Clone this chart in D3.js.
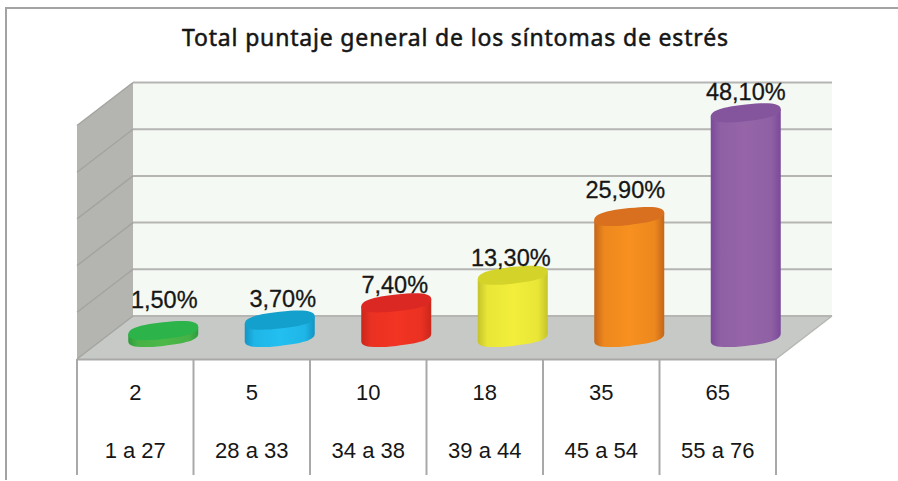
<!DOCTYPE html>
<html>
<head>
<meta charset="utf-8">
<script src="https://cdn.jsdelivr.net/npm/d3@7"></script>
<style>
  html, body { margin: 0; padding: 0; background: #fff; }
  svg { display: block; }
  text { font-family: "Liberation Sans", Arial, sans-serif; fill: #161616; }
</style>
</head>
<body>
<div id="chart"></div>
<script>
// chart values
const titleText = "Total puntaje general de los síntomas de estrés";
const counts = [2, 5, 10, 18, 35, 65];
const percentLabels = ["1,50%", "3,70%", "7,40%", "13,30%", "25,90%", "48,10%"];
const ranges = ["1 a 27", "28 a 33", "34 a 38", "39 a 44", "45 a 54", "55 a 76"];
const yTicks = [0, 14, 28, 42, 56, 70];
const sideColors = ["#4cb848", "#22bff0", "#f23423", "#f2ee3a", "#f7901f", "#9565a8"];
const edgeColors = ["#2e9c3c", "#1194c4", "#c9271c", "#c4c42a", "#c4661a", "#7a4a9a"];
const topColors = ["#2cb34a", "#14a0cc", "#dc2823", "#d3d32a", "#d9701f", "#84549c"];

const width = 898;
const height = 481;

// floor corners: front edge and how far the depth is pushed back
const frontLeft = 77;
const frontRight = 776;
const frontY = 359;
const depthX = 56;
const depthY = 43;
const tableBottom = 475;

// the value labels were placed by hand in the original, so each has its own nudge
const labelNudgeX = [1, 3, -1.5, -2, -4, 0];
const labelGap = [23, 13, 10, 9, 19, 13];

const svg = d3.select("#chart").append("svg")
    .attr("width", width)
    .attr("height", height);

const defs = svg.append("defs");

// outer frame, only top and left are inside the crop
svg.append("path")
    .attr("d", `M6,480 V8 H${width}`)
    .attr("fill", "none")
    .attr("stroke", "#a3a3a3")
    .attr("stroke-width", 2);

// Scales
const xScale = d3.scaleBand()
    .domain(ranges)
    .range([frontLeft, frontRight]);

const gridY = d3.scaleLinear()
    .domain([0, 70])
    .range([frontY - depthY, frontY - depthY - 233.5]);

const barHeight = d3.scaleLinear()
    .domain([0, 70])
    .range([0, 242]);

// back wall
svg.append("rect")
    .attr("x", frontLeft + depthX)
    .attr("y", gridY(70))
    .attr("width", frontRight - frontLeft)
    .attr("height", gridY(0) - gridY(70))
    .attr("fill", "#f4f9f3");

// side wall
svg.append("path")
    .attr("d", `M${frontLeft},${frontY} L${frontLeft + depthX},${gridY(0)} V${gridY(70)} L${frontLeft},${gridY(70) + depthY} Z`)
    .attr("fill", "#b4b5b1");

// floor
svg.append("path")
    .attr("d", `M${frontLeft},${frontY} L${frontLeft + depthX},${gridY(0)} H${frontRight + depthX} L${frontRight},${frontY} Z`)
    .attr("fill", "#c6c9c5");

// gridlines on back and side wall
const grid = svg.append("g").attr("class", "grid");
grid.selectAll(".back-line")
    .data(yTicks)
    .enter().append("line")
    .attr("class", "back-line")
    .attr("x1", frontLeft + depthX)
    .attr("x2", frontRight + depthX)
    .attr("y1", d => gridY(d))
    .attr("y2", d => gridY(d))
    .attr("stroke", "#b5b5b3")
    .attr("stroke-width", 2);
grid.selectAll(".side-line")
    .data(yTicks)
    .enter().append("line")
    .attr("class", "side-line")
    .attr("x1", frontLeft)
    .attr("x2", frontLeft + depthX)
    .attr("y1", d => gridY(d) + depthY)
    .attr("y2", d => gridY(d))
    .attr("stroke", "#a3a4a0")
    .attr("stroke-width", 1.4);

// right edge of the floor
svg.append("line")
    .attr("x1", frontRight)
    .attr("y1", frontY)
    .attr("x2", frontRight + depthX)
    .attr("y2", gridY(0))
    .attr("stroke", "#b5b7b3")
    .attr("stroke-width", 1.5);

// table under the chart
const table = svg.append("g").attr("class", "table");
table.append("line")
    .attr("x1", frontLeft)
    .attr("x2", frontRight)
    .attr("y1", frontY + 0.5)
    .attr("y2", frontY + 0.5)
    .attr("stroke", "#a9a9a9")
    .attr("stroke-width", 2);
table.selectAll(".cell-line")
    .data(ranges.map(d => xScale(d)).concat(frontRight))
    .enter().append("line")
    .attr("class", "cell-line")
    .attr("x1", d => d)
    .attr("x2", d => d)
    .attr("y1", frontY)
    .attr("y2", tableBottom)
    .attr("stroke", "#a9a9a9")
    .attr("stroke-width", 2);
table.selectAll(".count-label")
    .data(counts)
    .enter().append("text")
    .attr("class", "count-label")
    .attr("x", (d, i) => xScale(ranges[i]) + xScale.bandwidth() / 2)
    .attr("y", 400)
    .attr("text-anchor", "middle")
    .style("font-size", "22px")
    .text(d => d);
table.selectAll(".range-label")
    .data(ranges)
    .enter().append("text")
    .attr("class", "range-label")
    .attr("x", d => xScale(d) + xScale.bandwidth() / 2)
    .attr("y", 458)
    .attr("text-anchor", "middle")
    .style("font-size", "22px")
    .text(d => d);

// cylinders: rounder than a true ellipse, and skewed so the sides stay vertical
const rx = 35;
const ry = 8.4;
const skew = -6;
const kx = 0.66 * rx;
const ky = 0.72 * ry;
const barBase = 337.5;

const lowerHalf = `C${rx},${ky} ${kx},${ry} 0,${ry} C${-kx},${ry} ${-rx},${ky} ${-rx},0`;
const upperHalf = `C${-rx},${-ky} ${-kx},${-ry} 0,${-ry} C${kx},${-ry} ${rx},${-ky} ${rx},0`;

counts.forEach((d, i) => {
    const grad = defs.append("linearGradient")
        .attr("id", `bar-grad-${i}`);
    const inner = d3.interpolateRgb(sideColors[i], edgeColors[i])(0.2);
    [[0, edgeColors[i]], [0.14, inner], [0.5, sideColors[i]], [0.86, inner], [1, edgeColors[i]]]
        .forEach(s => grad.append("stop").attr("offset", s[0]).attr("stop-color", s[1]));
});

const bars = svg.append("g").attr("class", "bars")
    .selectAll(".bar")
    .data(counts)
    .enter().append("g")
    .attr("class", "bar");

const centerX = (d, i) => xScale(ranges[i]) + xScale.bandwidth() / 2 + depthX / 2;
const topY = d => barBase - barHeight(d);

bars.append("path")
    .attr("fill", (d, i) => `url(#bar-grad-${i})`)
    .attr("transform", (d, i) => `translate(${centerX(d, i)},${barBase}) skewY(${skew})`)
    .attr("d", d => `M${rx},${-barHeight(d)} L${rx},0 ${lowerHalf} L${-rx},${-barHeight(d)} Z`);

bars.append("path")
    .attr("fill", (d, i) => topColors[i])
    .attr("transform", (d, i) => `translate(${centerX(d, i)},${topY(d)}) skewY(${skew})`)
    .attr("d", `M${rx},0 ${lowerHalf} ${upperHalf} Z`);

// value labels above each cylinder
bars.append("text")
    .attr("x", (d, i) => centerX(d, i) + labelNudgeX[i])
    .attr("y", (d, i) => topY(d) - labelGap[i])
    .attr("text-anchor", "middle")
    .style("font-size", "23.5px")
    .style("stroke", "#161616")
    .style("stroke-width", 0.3)
    .text((d, i) => percentLabels[i]);

// title
svg.append("text")
    .attr("x", 455)
    .attr("y", 45.5)
    .attr("text-anchor", "middle")
    .attr("textLength", 546)
    .attr("lengthAdjust", "spacing")
    .style("font-family", '"Noto Sans", sans-serif')
    .style("font-size", "23px")
    .style("stroke", "#161616")
    .style("stroke-width", 0.5)
    .text(titleText);
</script>
</body>
</html>
